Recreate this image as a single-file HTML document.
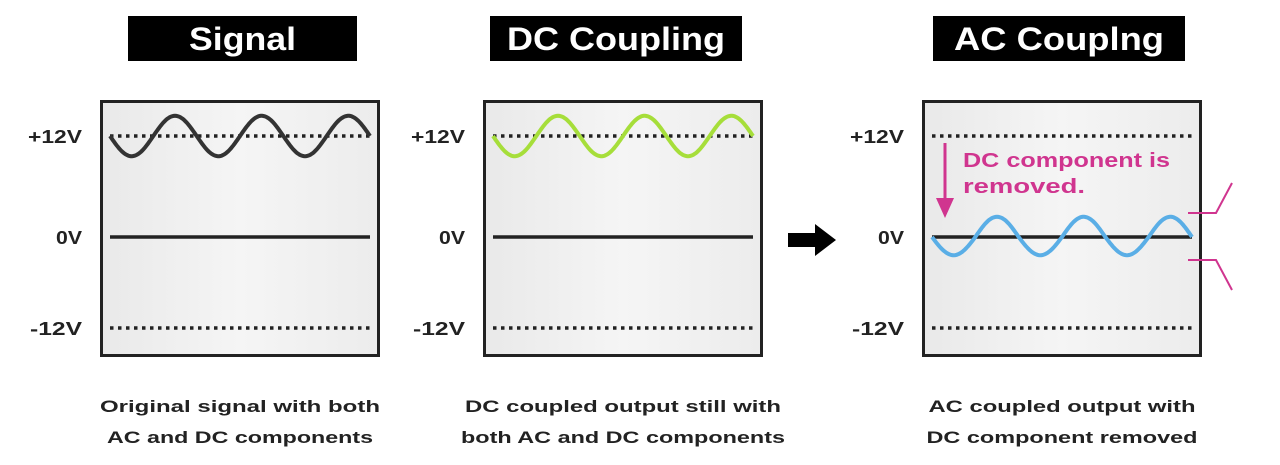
<!DOCTYPE html>
<html><head><meta charset="utf-8"><style>
body{margin:0;background:#fff;width:1280px;height:465px;overflow:hidden;font-family:"Liberation Sans",sans-serif}
svg{position:absolute;left:0;top:0}
</style></head><body>
<svg id="s" width="1280" height="465">
<defs><linearGradient id="g" x1="0" y1="0" x2="1" y2="0"><stop offset="0" stop-color="#e9e9e9"/><stop offset="0.5" stop-color="#f5f5f5"/><stop offset="1" stop-color="#ececec"/></linearGradient></defs>
</svg>
<script>
const panels=["signal","dc-coupling","ac-coupling"];
const titles=["Signal","DC Coupling","AC Couplng"];
const captions1=["Original signal with both","DC coupled output still with","AC coupled output with"];
const captions2=["AC and DC components","both AC and DC components","DC component removed"];
const dcOffset=[12,12,0];
const acAmplitude=[2.4,2.4,2.4];
const cycles=[3,3,3];
const waveColors=["#333","#a6de3a","#5aaee6"];
const yTicks=[12,0,-12];
const yLabels=["+12V","0V","-12V"];
const NS="http://www.w3.org/2000/svg",s=document.getElementById('s');
function el(t,a,p){const e=document.createElementNS(NS,t);for(const k in a)e.setAttribute(k,a[k]);(p||s).appendChild(e);return e;}
const px=[100,483,922],tx=[128,490,933],tw=[229,252,252],PW=280,PH=257,PT=100;
const titleW=[107,218,210],cap1W=[280,316,267],cap2W=[266,324,271],labW=[54,26,52];
function yv(v){return v===0?237:(v>0?237-v*(101/12):237-v*(91/12));}
panels.forEach((p,i)=>{
 const g=el('g',{});
 const tb=el('rect',{x:tx[i],y:16,width:tw[i],height:45,fill:'#000'},g);
 const tt=el('text',{x:tx[i]+tw[i]/2,y:50,'text-anchor':'middle',fill:'#fff','font-size':32,'font-weight':'bold',textLength:titleW[i],lengthAdjust:'spacingAndGlyphs'},g);tt.textContent=titles[i];
 const r=el('rect',{x:px[i]+1.5,y:PT+1.5,width:PW-3,height:PH-3,fill:'url(#g)',stroke:'#222','stroke-width':3},g);
 const x0=px[i]+10,x1=px[i]+PW-10;
 yTicks.forEach((v,k)=>{
  const l=el('line',{x1:x0,x2:x1,y1:yv(v),y2:yv(v),stroke:'#222','stroke-width':3.5,'stroke-dasharray':k==1?'none':'3.5 4.5'},g);
  const t=el('text',{x:px[i]-18,y:yv(v)+7,'text-anchor':'end','font-size':18,'font-weight':'bold',fill:'#222',textLength:labW[k],lengthAdjust:'spacingAndGlyphs'},g);t.textContent=yLabels[k];
 });
 let d='';for(let k=0;k<=200;k++){const x=x0+(x1-x0)*k/200;const y=yv(dcOffset[i]-acAmplitude[i]*Math.sin(2*Math.PI*cycles[i]*k/200));d+=(k?'L':'M')+x.toFixed(1)+' '+y.toFixed(1);}
 const w=el('path',{d:d,fill:'none',stroke:waveColors[i],'stroke-width':4},g);
 [[captions1[i],cap1W[i]],[captions2[i],cap2W[i]]].forEach((c,k)=>{const t=el('text',{x:px[i]+PW/2,y:412+k*31,'text-anchor':'middle','font-size':17,'font-weight':'bold',fill:'#222',textLength:c[1],lengthAdjust:'spacingAndGlyphs'},g);t.textContent=c[0];});
});
const ar=el('path',{d:'M788 233 L815 233 L815 224 L836 240 L815 256 L815 247 L788 247 Z',fill:'#000'});
const pa=el('g',{});
el('line',{x1:945,y1:143,x2:945,y2:205,stroke:'#d0358f','stroke-width':3},pa);
el('path',{d:'M936 198 L954 198 L945 218 Z',fill:'#d0358f'},pa);
const an=el('text',{x:963,y:167,fill:'#d0358f','font-size':20,'font-weight':'bold',textLength:207,lengthAdjust:'spacingAndGlyphs'},pa);an.textContent='DC component is';
const an2=el('text',{x:963,y:193,fill:'#d0358f','font-size':20,'font-weight':'bold',textLength:122,lengthAdjust:'spacingAndGlyphs'},pa);an2.textContent='removed.';
const br=el('path',{d:'M1188 213 L1216 213 L1232 183 M1188 260 L1216 260 L1232 290',fill:'none',stroke:'#d0358f','stroke-width':2},pa);
</script>
</body></html>
